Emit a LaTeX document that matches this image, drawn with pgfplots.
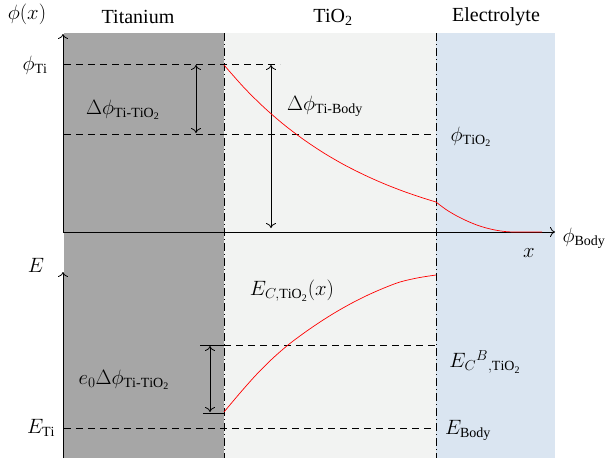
\documentclass[border=0pt]{standalone}
\usepackage{amsmath}
\usepackage{pgfplots}
\pgfplotsset{compat=1.18}
\usepackage{fontspec}
\setmainfont{Liberation Serif}
\usetikzlibrary{arrows.meta}
\definecolor{tigray}{HTML}{A6A6A6}
\definecolor{oxgray}{HTML}{F2F3F2}
\definecolor{elblue}{HTML}{DAE5F1}
\begin{document}
\begin{tikzpicture}
\tikzset{every node/.append style={font=\fontsize{20}{24}\selectfont, inner sep=0pt}}
\begin{axis}[scale only axis, width=607pt, height=458pt,
  xmin=0, xmax=607, ymin=0, ymax=458, y dir=reverse,
  hide axis, clip=false,
  every axis plot/.append style={line width=0.8pt}]
% background
\addplot[fill=white, draw=none] coordinates {(0,0)(607,0)(607,458)(0,458)} -- cycle;
\addplot[fill=tigray, draw=none] coordinates {(64,33)(224,33)(224,458)(64,458)} -- cycle;
\addplot[fill=oxgray, draw=none] coordinates {(224,33)(436,33)(436,458)(224,458)} -- cycle;
\addplot[fill=elblue, draw=none] coordinates {(436,33)(555,33)(555,458)(436,458)} -- cycle;
% dash-dot boundaries
\addplot[black, line width=0.7pt, dash pattern=on 8pt off 3pt on 1pt off 3pt] coordinates {(224,33)(224,458)};
\addplot[black, line width=0.7pt, dash pattern=on 8pt off 3pt on 1pt off 3pt] coordinates {(436,33)(436,458)};
% dashed levels
\addplot[black, dash pattern=on 7pt off 5pt] coordinates {(64,64)(280,64)};
\addplot[black, dash pattern=on 7pt off 5pt] coordinates {(64,134)(436,134)};
\addplot[black, dash pattern=on 7pt off 5pt] coordinates {(200,345)(436,345)};
\addplot[black, dash pattern=on 7pt off 5pt] coordinates {(64,428)(436,428)};
% axes
\addplot[black, -{To[length=5pt,width=10pt]}] coordinates {(63,232)(63,34)};
\addplot[black, -{To[length=5pt,width=10pt]}] coordinates {(63,232)(555,232)};
\addplot[black, -{To[length=5pt,width=10pt]}] coordinates {(63,458)(63,272)};
% double arrows
\addplot[black, {To[length=5pt,width=10pt]}-{To[length=5pt,width=10pt]}] coordinates {(196,65)(196,133)};
\addplot[black, {To[length=5pt,width=10pt]}-{To[length=5pt,width=10pt]}] coordinates {(271,65)(271,228)};
\addplot[black, {To[length=5pt,width=10pt]}-{To[length=5pt,width=10pt]}] coordinates {(210,346)(210,412)};
\addplot[black] coordinates {(200,345)(224,345)};
\addplot[black] coordinates {(203,413)(224,413)};
% potential curve
\addplot[red, smooth, line width=0.7pt] coordinates {(224,65)(244,87.6)(264,107.4)(284,124.7)(304,139.8)(324,153.1)(344,164.7)(364,174.8)(384,183.7)(404,191.5)(424,198.3)(436,202)};
\addplot[red, smooth, line width=0.7pt] coordinates {(436,202)(446,209.5)(456,215.5)(466,220.5)(476,224.7)(486,227.9)(496,230.2)(506,231.6)(516,232)(542,232)};
% conduction band
\addplot[red, smooth, line width=0.7pt] coordinates {(224,412)(240,393)(256,375)(272,359)(288,345)(304,333)(320,322)(336,312)(352,303)(368,295)(384,288)(400,282)(418,277.8)(436,275)};
% labels
\node at (axis cs:27,14) {$\phi(x)$};
\node at (axis cs:138,17) {Titanium};
\node at (axis cs:333,17) {TiO\textsubscript{2}};
\node at (axis cs:496,17) {Electrolyte};
\node at (axis cs:35,65) {$\phi_{\mathrm{Ti}}$};
\node at (axis cs:123,110) {$\Delta\phi_{\mathrm{Ti\text{-}TiO_2}}$};
\node at (axis cs:325,106) {$\Delta\phi_{\mathrm{Ti\text{-}Body}}$};
\node at (axis cs:471,137) {$\phi_{\mathrm{TiO_2}}$};
\node at (axis cs:584,238) {$\phi_{\mathrm{Body}}$};
\node at (axis cs:529,253) {$x$};
\node at (axis cs:36,265) {$E$};
\node at (axis cs:292,291) {$E_{C,\mathrm{TiO_2}}(x)$};
\node at (axis cs:124,380) {$e_0\Delta\phi_{\mathrm{Ti\text{-}TiO_2}}$};
\node at (axis cs:485,362) {$E_{C}{}^{B}{}_{,\mathrm{TiO_2}}$};
\node at (axis cs:41,428) {$E_{\mathrm{Ti}}$};
\node at (axis cs:468,430) {$E_{\mathrm{Body}}$};
\end{axis}
\end{tikzpicture}
\end{document}
